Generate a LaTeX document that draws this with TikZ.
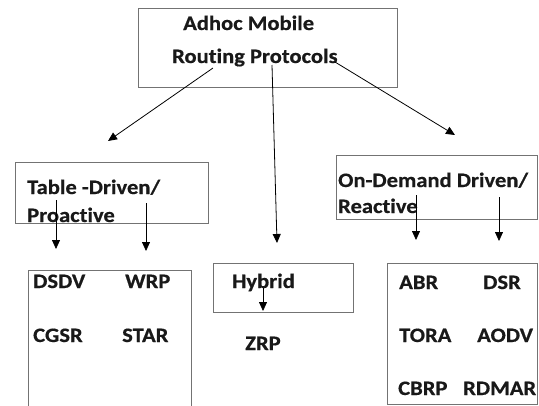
\documentclass[tikz,border=0pt]{standalone}
\usepackage{fontspec}
\setmainfont{Carlito}[FakeStretch=1.1,Ligatures=NoCommon,BoldFeatures={FakeBold=0.6}]
\usetikzlibrary{positioning,arrows.meta}

\tikzset{
  box/.style={draw=black!55, line width=1pt, inner sep=0pt, outer sep=0pt, anchor=north west},
  lbl/.style={inner sep=0pt, anchor=base west, text=black!90, font=\fontsize{20.5}{24}\selectfont\bfseries},
  arr/.style={line width=0.8pt, -{Triangle[length=9pt,width=8pt]}}
}

\begin{document}
\begin{tikzpicture}[x=1pt,y=-1pt]

		\useasboundingbox (0,0) rectangle (539,405);
		\clip (0,0) rectangle (539,405);
		
		% boxes
		\node[box, minimum width=259pt, minimum height=79pt] (U) at (138,8) {};
		\node[box, minimum width=193pt, minimum height=61pt] (T) at (15,162) {};
		\node[box, minimum width=140pt, minimum height=49pt] (H) at (213,263) {};
		\node[box, minimum width=201pt, minimum height=64pt] (R) at (336,155) {};
		\node[box, minimum width=163pt, minimum height=200pt] (TL) at (28,270) {};
		\node[box, minimum width=150pt, minimum height=141pt] (RL) at (387,263) {};
		
		% texts
		\node[lbl] (u1) at (183,30) {Adhoc Mobile};
		\node[lbl] (u2) at (172,63) {Routing Protocols};
		
		\node[lbl] (t1) at (27,194) {Table -Driven/};
		\node[lbl] (t2) at (27,222) {Proactive};
		
		\node[lbl] (r1) at (338,187) {On-Demand Driven/};
		\node[lbl] (r2) at (338,213) {Reactive};
		
		\node[lbl] (h) at (232,288) {Hybrid};
		\node[lbl] (zrp) at (245,350) {ZRP};
		
		\node[lbl] (dsdv) at (33,288) {DSDV};
		\node[lbl] (wrp) at (125,288) {WRP};
		\node[lbl] (cgsr) at (33,342) {CGSR};
		\node[lbl] (star) at (122,342) {STAR};
		
		\node[lbl] (abr) at (399,289) {ABR};
		\node[lbl] (dsr) at (483,289) {DSR};
		\node[lbl] (tora) at (399,342) {TORA};
		\node[lbl] (aodv) at (477,342) {AODV};
		\node[lbl] (cbrp) at (398,395) {CBRP};
		\node[lbl] (rdmar) at (463,395) {RDMAR};
		
		% arrow ends
		\coordinate (ua) at (213,68);
		\coordinate (ub) at (272,65);
		\coordinate (uc) at (335,62);
		\coordinate (ta) at (108,141);
		\coordinate (hb) at (277,243);
		\coordinate (rc) at (455,135);
		
		\coordinate (t1a) at (56,200);
		\coordinate (t1b) at (56,249);
		\coordinate (t2a) at (146,203);
		\coordinate (t2b) at (146,251);
		
		\coordinate (r1a) at (416,195);
		\coordinate (r1b) at (416,240);
		\coordinate (r2a) at (499,197);
		\coordinate (r2b) at (499,241);
		
		\coordinate (ha) at (263,288);
		\coordinate (hz) at (263,311);
		
		\draw[arr] (ua)--(ta);
		\draw[arr] (ub)--(hb);
		\draw[arr] (uc)--(rc);
		
		\draw[arr] (t1a)--(t1b);
		\draw[arr] (t2a)--(t2b);
		\draw[arr] (r1a)--(r1b);
		\draw[arr] (r2a)--(r2b);
		\draw[arr] (ha)--(hz);
		
	\end{tikzpicture}
\end{document}
